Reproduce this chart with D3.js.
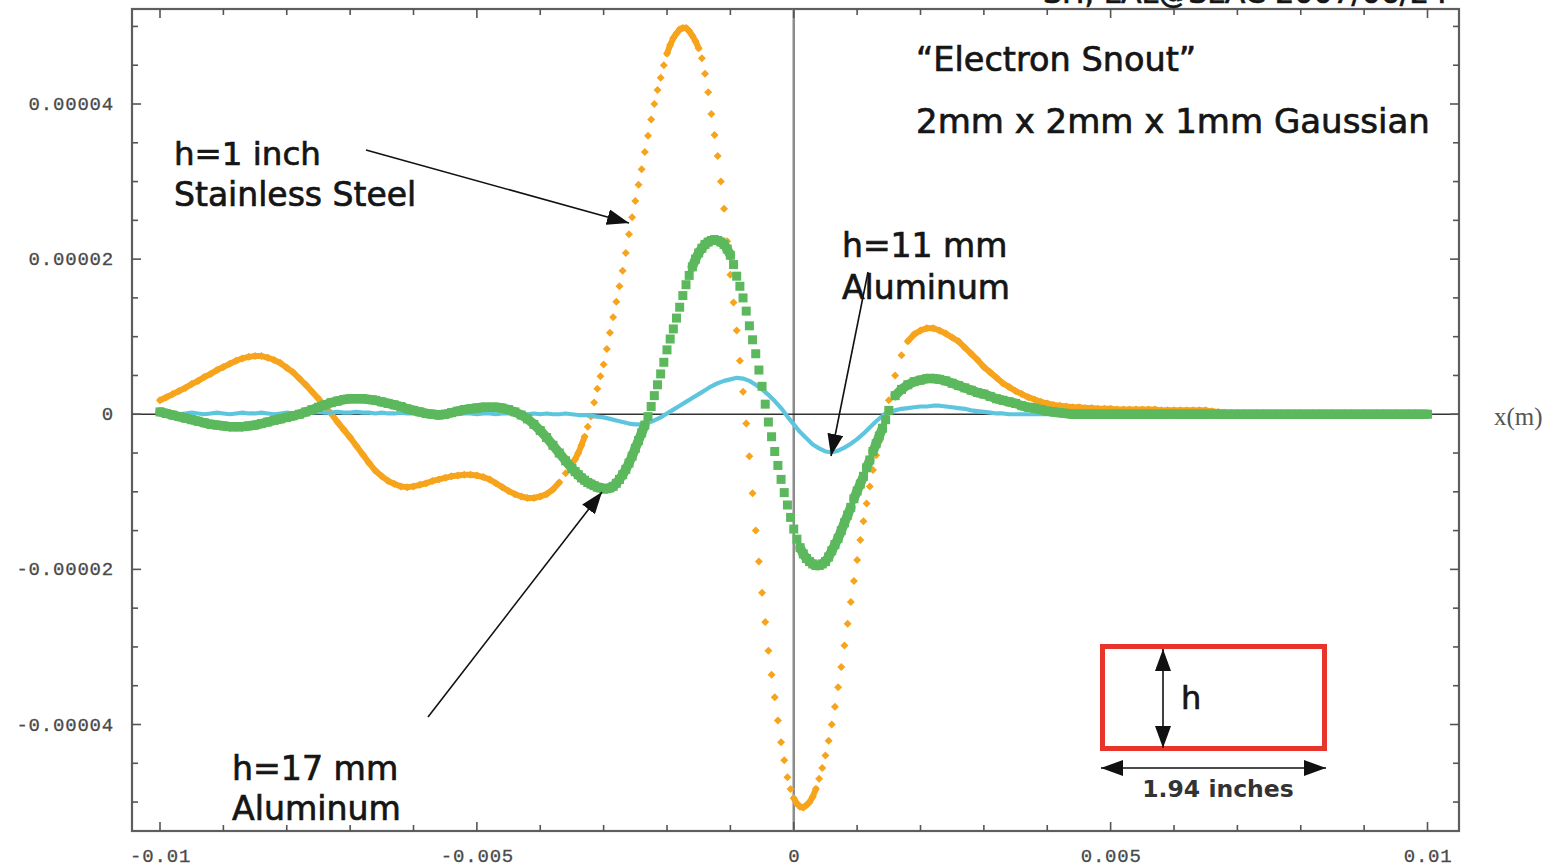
<!DOCTYPE html>
<html>
<head>
<meta charset="utf-8">
<script src="https://cdn.jsdelivr.net/npm/d3@7"></script>
<style>
  html, body { margin: 0; padding: 0; background: #fff; overflow: hidden; }
  svg { display: block; }
</style>
</head>
<body>
<svg id="chart" width="1562" height="867"></svg>
<script>
// ---------------- DATA (values in units of 1e-6) ----------------
// coarse sampling over the whole range
const xStart = -0.01, xStep = 0.0001, nPoints = 201;
const xValues = d3.range(nPoints).map(i => +(xStart + i * xStep).toFixed(5));
// finer sampling in the steep central part (-0.0035 .. 0.0015)
const fineStart = -0.0035, fineStep = 0.00005, fineN = 101;
const xFine = d3.range(fineN).map(k => +(fineStart + k * fineStep).toFixed(5));

// h = 1 inch, Stainless Steel (orange) — coarse
const steel1inch = [
  1.8, 2.2, 2.6, 3.0, 3.4, 3.9, 4.3, 4.8, 5.2, 5.7,
  6.1, 6.5, 6.9, 7.2, 7.4, 7.5, 7.5, 7.3, 7.0, 6.6,
  6.0, 5.4, 4.6, 3.8, 2.9, 2.0, 1.0, 0.1, -1.0, -2.0,
  -3.0, -4.1, -5.2, -6.3, -7.3, -8.0, -8.6, -9.0, -9.3, -9.4,
  -9.3, -9.1, -8.9, -8.6, -8.4, -8.2, -8.0, -7.9, -7.8, -7.8,
  -7.9, -8.1, -8.4, -8.9, -9.4, -9.9, -10.3, -10.6, -10.8, -10.8,
  -10.6, -10.3, -9.7, -8.8, -7.6, -6.4, -5.0, -2.9, -0.3, 3.3,
  6.4, 10.5, 14.5, 18.5, 23.2, 27.5, 31.6, 35.9, 40.0, 43.4,
  46.5, 48.5, 49.6, 49.8, 48.8, 47.2, 43.9, 38.7, 33.3, 26.5,
  18.0, 10.8, 2.9, -5.4, -15.0, -23.0, -30.5, -36.5, -42.3, -46.8,
  -49.5, -50.6, -50.4, -49.3, -47.0, -44.0, -40.0, -35.2, -29.8, -24.2,
  -18.8, -13.8, -9.3, -5.3, -1.8, 1.8, 5.0, 7.6, 9.4, 10.3,
  10.8, 11.1, 11.1, 10.8, 10.4, 9.9, 9.4, 8.6, 7.8, 7.0,
  6.1, 5.4, 4.7, 4.0, 3.5, 3.0, 2.6, 2.2, 1.9, 1.6,
  1.4, 1.2, 1.1, 1.0, 0.9, 0.9, 0.8, 0.8, 0.7, 0.7,
  0.7, 0.6, 0.6, 0.6, 0.6, 0.6, 0.6, 0.6, 0.5, 0.5,
  0.5, 0.5, 0.5, 0.5, 0.5, 0.5, 0.4, 0.3, 0.2, 0.1,
  0.1, 0.1, 0, 0, 0, 0, 0, 0, 0, 0,
  0, 0, 0, 0, 0, 0, 0, 0, 0, 0,
  0, 0, 0, 0, 0, 0, 0, 0, 0, 0,
  0
];
// h = 1 inch, Stainless Steel (orange) — fine, x = -0.0035 .. 0.0015
const steel1inchFine = [
  -6.4, -5.8, -5.0, -4.0, -2.9, -1.6, -0.3, 1.5, 3.3, 4.9,
  6.4, 8.4, 10.5, 12.5, 14.5, 16.5, 18.5, 20.8, 23.2, 25.4,
  27.5, 29.6, 31.6, 33.8, 35.9, 38.0, 40.0, 41.8, 43.4, 45.0,
  46.5, 47.6, 48.5, 49.1, 49.6, 49.8, 49.8, 49.4, 48.8, 48.1,
  47.2, 45.9, 43.9, 41.5, 38.7, 36.0, 33.3, 30.0, 26.5, 22.3,
  18.0, 14.4, 10.8, 6.9, 2.9, -1.2, -5.4, -10.2, -15.0, -19.0,
  -23.0, -26.8, -30.5, -33.6, -36.5, -39.5, -42.3, -44.6, -46.8, -48.3,
  -49.5, -50.2, -50.6, -50.7, -50.4, -50.0, -49.3, -48.3, -47.0, -45.6,
  -44.0, -42.1, -40.0, -37.7, -35.2, -32.6, -29.8, -27.0, -24.2, -21.5,
  -18.8, -16.2, -13.8, -11.5, -9.3, -7.2, -5.3, -3.5, -1.8, 0.0,
  1.8
];

// h = 17 mm, Aluminum (green) — coarse
const alu17mm = [
  0.3, 0.1, -0.1, -0.3, -0.5, -0.7, -0.9, -1.1, -1.3, -1.4,
  -1.5, -1.6, -1.6, -1.6, -1.5, -1.4, -1.2, -1.0, -0.8, -0.6,
  -0.4, -0.2, 0.0, 0.3, 0.6, 0.9, 1.2, 1.5, 1.7, 1.9,
  2.0, 2.0, 2.0, 1.9, 1.8, 1.6, 1.4, 1.2, 1.0, 0.7,
  0.5, 0.3, 0.1, 0.0, -0.1, 0.0, 0.2, 0.4, 0.6, 0.7,
  0.8, 0.9, 0.9, 0.9, 0.8, 0.6, 0.3, -0.1, -0.6, -1.3,
  -2.1, -3.0, -4.0, -5.0, -6.0, -7.0, -7.8, -8.5, -9.0, -9.4,
  -9.6, -9.5, -8.9, -7.8, -6.3, -4.4, -2.4, -0.3, 2.4, 5.2,
  8.3, 11.0, 13.8, 16.7, 19.0, 20.8, 21.9, 22.4, 22.4, 21.9,
  20.5, 17.8, 15.0, 11.4, 7.8, 3.6, -1.0, -4.8, -8.4, -11.7,
  -14.8, -17.2, -18.6, -19.3, -19.5, -19.0, -17.6, -16.0, -14.0, -12.0,
  -9.9, -8.0, -5.9, -3.8, -1.8, 0.5, 2.4, 3.2, 3.8, 4.2,
  4.4, 4.6, 4.6, 4.5, 4.3, 4.0, 3.7, 3.4, 3.1, 2.8,
  2.6, 2.3, 2.0, 1.8, 1.6, 1.4, 1.1, 0.9, 0.8, 0.6,
  0.4, 0.3, 0.2, 0.1, 0, 0, 0, 0, 0, 0,
  0, 0, 0, 0, 0, 0, 0, 0, 0, 0,
  0, 0, 0, 0, 0, 0, 0, 0, 0, 0,
  0, 0, 0, 0, 0, 0, 0, 0, 0, 0,
  0, 0, 0, 0, 0, 0, 0, 0, 0, 0,
  0, 0, 0, 0, 0, 0, 0, 0, 0, 0,
  0
];
// h = 17 mm, Aluminum (green) — fine, x = -0.0035 .. 0.0015
const alu17mmFine = [
  -7.0, -7.4, -7.8, -8.2, -8.5, -8.8, -9.0, -9.2, -9.4, -9.5,
  -9.6, -9.6, -9.5, -9.3, -8.9, -8.4, -7.8, -7.1, -6.3, -5.4,
  -4.4, -3.4, -2.4, -1.4, -0.3, 1.0, 2.4, 3.8, 5.2, 6.7,
  8.3, 9.7, 11.0, 12.4, 13.8, 15.3, 16.7, 17.9, 19.0, 20.0,
  20.8, 21.4, 21.9, 22.2, 22.4, 22.5, 22.4, 22.2, 21.9, 21.3,
  20.5, 19.3, 17.8, 16.5, 15.0, 13.3, 11.4, 9.6, 7.8, 5.7,
  3.6, 1.3, -1.0, -2.9, -4.8, -6.6, -8.4, -10.1, -11.7, -13.3,
  -14.8, -16.1, -17.2, -18.0, -18.6, -19.0, -19.3, -19.5, -19.5, -19.3,
  -19.0, -18.4, -17.6, -16.8, -16.0, -15.0, -14.0, -13.0, -12.0, -10.9,
  -9.9, -9.0, -8.0, -6.9, -5.9, -4.8, -3.8, -2.8, -1.8, -0.7,
  0.5
];

// h = 11 mm, Aluminum (cyan)
const alu11mm = [
  0.2, 0.1, 0.2, 0.0, 0.1, 0.2, 0.1, 0.0, 0.1, 0.2,
  0.1, 0.0, 0.1, 0.2, 0.1, 0.1, 0.2, 0.1, 0.0, 0.1,
  0.2, 0.1, 0.1, 0.2, 0.2, 0.3, 0.2, 0.2, 0.3, 0.2,
  0.2, 0.3, 0.2, 0.2, 0.1, 0.2, 0.1, 0.1, 0.2, 0.1,
  0.1, 0.0, 0.1, 0.1, 0.0, 0.1, 0.1, 0.0, 0.1, 0.1,
  0.0, 0.1, 0.1, 0.0, 0.1, 0.1, 0.0, 0.1, 0.0, 0.1,
  0.0, 0.1, 0.0, 0.0, 0.1, 0.0, -0.1, -0.1, -0.2, -0.3,
  -0.4, -0.6, -0.8, -1.0, -1.2, -1.3, -1.3, -1.1, -0.8, -0.4,
  0.1, 0.6, 1.1, 1.6, 2.1, 2.6, 3.1, 3.6, 4.0, 4.3,
  4.5, 4.7, 4.6, 4.3, 3.8, 3.2, 2.5, 1.7, 0.8, -0.3,
  -1.3, -2.3, -3.1, -3.9, -4.4, -4.8, -4.9, -4.7, -4.3, -3.8,
  -3.2, -2.5, -1.7, -0.9, -0.2, 0.3, 0.5, 0.7, 0.8, 0.9,
  1.0, 1.0, 1.1, 1.1, 1.0, 0.9, 0.8, 0.7, 0.5, 0.4,
  0.3, 0.2, 0.1, 0.1, 0, 0, 0, 0, 0, 0,
  0, 0, 0, 0, 0, 0, 0, 0, 0, 0,
  0, 0, 0, 0, 0, 0, 0, 0, 0, 0,
  0, 0, 0, 0, 0, 0, 0, 0, 0, 0,
  0, 0, 0, 0, 0, 0, 0, 0, 0, 0,
  0, 0, 0, 0, 0, 0, 0, 0, 0, 0,
  0, 0, 0, 0, 0, 0, 0, 0, 0, 0,
  0
];
const valueUnit = 1e-6;

const xTickLabels = ["-0.01", "-0.005", "0", "0.005", "0.01"];
const xTickValues = [-0.01, -0.005, 0, 0.005, 0.01];
const yTickLabels = ["0.00004", "0.00002", "0", "-0.00002", "-0.00004"];
const yTickValues = [0.00004, 0.00002, 0, -0.00002, -0.00004];

// ---------------- LAYOUT ----------------
const frame = { left: 132, right: 1459, top: 9, bottom: 831 };
const svg = d3.select("#chart");

const x = d3.scaleLinear().domain([-0.01, 0.01]).range([160, 1427.5]);
const y = d3.scaleLinear().domain([-0.00004, 0.00004]).range([724.5, 104]);

const colors = { steel: "#f7a41d", green: "#5cb85c", cyan: "#5ec5de", red: "#e8342a" };

// frame
svg.append("rect")
  .attr("x", frame.left).attr("y", frame.top)
  .attr("width", frame.right - frame.left).attr("height", frame.bottom - frame.top)
  .attr("fill", "none").attr("stroke", "#5e5e5e").attr("stroke-width", 2.2);

// zero lines
svg.append("line")
  .attr("x1", x(0)).attr("x2", x(0)).attr("y1", frame.top).attr("y2", frame.bottom)
  .attr("stroke", "#8c8c8c").attr("stroke-width", 2.5);
svg.append("line")
  .attr("x1", frame.left).attr("x2", frame.right).attr("y1", y(0)).attr("y2", y(0))
  .attr("stroke", "#333").attr("stroke-width", 1.6);

// ---------------- TICKS ----------------
const majorX = xTickValues, minorX = d3.range(-10, 11).map(k => k / 1000);
const majorY = yTickValues, minorY = d3.range(-10, 11).map(k => k * 0.000005);
const tickG = svg.append("g").attr("stroke", "#555").attr("stroke-width", 1.6);
function isMajor(list, v) { return list.some(m => Math.abs(m - v) < 1e-12); }
minorX.forEach(v => {
  const len = isMajor(majorX, v) ? 9 : 6;
  tickG.append("line").attr("x1", x(v)).attr("x2", x(v)).attr("y1", frame.bottom).attr("y2", frame.bottom - len);
  tickG.append("line").attr("x1", x(v)).attr("x2", x(v)).attr("y1", frame.top).attr("y2", frame.top + len);
});
minorY.forEach(v => {
  const len = isMajor(majorY, v) ? 9 : 6;
  tickG.append("line").attr("y1", y(v)).attr("y2", y(v)).attr("x1", frame.left).attr("x2", frame.left + len);
  tickG.append("line").attr("y1", y(v)).attr("y2", y(v)).attr("x1", frame.right).attr("x2", frame.right - len);
});

const tickFont = { family: "'Liberation Mono', 'DejaVu Sans Mono', monospace", size: 19, fill: "#4a4a4a" };
xTickValues.forEach((v, i) => {
  svg.append("text").attr("x", x(v) + 0.6).attr("y", 862)
    .attr("text-anchor", "middle")
    .attr("font-family", tickFont.family).attr("font-size", tickFont.size)
    .attr("letter-spacing", 0.8).attr("fill", tickFont.fill)
    .attr("stroke", tickFont.fill).attr("stroke-width", 0.3)
    .text(xTickLabels[i]);
});
yTickValues.forEach((v, i) => {
  svg.append("text").attr("x", 114).attr("y", y(v) + 6)
    .attr("text-anchor", "end")
    .attr("font-family", tickFont.family).attr("font-size", tickFont.size)
    .attr("letter-spacing", 0.8).attr("fill", tickFont.fill)
    .attr("stroke", tickFont.fill).attr("stroke-width", 0.3)
    .text(yTickLabels[i]);
});
svg.append("text").attr("x", 1494).attr("y", 425)
  .attr("font-family", "'Liberation Serif', 'DejaVu Serif', serif").attr("font-size", 25)
  .attr("fill", "#555").text("x(m)");

// ---------------- SERIES ----------------
// combine coarse samples outside the fine window with the fine samples
function pts(coarse, fine) {
  const lo = xFine[0] - 1e-9, hi = xFine[xFine.length - 1] + 1e-9;
  let list = xValues.map((xv, i) => [xv, coarse[i]]);
  if (fine) {
    list = list.filter(d => d[0] < lo || d[0] > hi)
      .concat(xFine.map((xv, k) => [xv, fine[k]]));
    list.sort((a, b) => a[0] - b[0]);
  }
  return list.map(d => [x(d[0]), y(d[1] * valueUnit)]);
}
// dense point runs look like a continuous band; sparse ones stay separate markers
function drawBand(g, p, color, width, thrY) {
  for (let i = 0; i < p.length - 1; i++) {
    const dy = Math.abs(p[i + 1][1] - p[i][1]);
    if (dy < thrY) {
      g.append("line").attr("x1", p[i][0]).attr("y1", p[i][1])
        .attr("x2", p[i + 1][0]).attr("y2", p[i + 1][1])
        .attr("stroke", color).attr("stroke-width", width).attr("stroke-linecap", "round");
    }
  }
}

// orange (h = 1 inch)
const gSteel = svg.append("g");
const pSteel = pts(steel1inch, steel1inchFine);
drawBand(gSteel, pSteel, colors.steel, 6, 9);
gSteel.selectAll("path.m").data(pSteel).join("path")
  .attr("class", "m")
  .attr("d", d3.symbol(d3.symbolSquare, 32)())
  .attr("transform", d => `translate(${d[0]},${d[1]}) rotate(45)`)
  .attr("fill", colors.steel);

// cyan (h = 11 mm)
const gCyan = svg.append("g");
gCyan.append("path").datum(pts(alu11mm))
  .attr("d", d3.line())
  .attr("fill", "none").attr("stroke", colors.cyan).attr("stroke-width", 4.2)
  .attr("stroke-linejoin", "round");

// green (h = 17 mm)
const gGreen = svg.append("g");
const pGreen = pts(alu17mm, alu17mmFine);
drawBand(gGreen, pGreen, colors.green, 9.5, 8.5);
gGreen.selectAll("rect").data(pGreen).join("rect")
  .attr("x", d => d[0] - 4.5).attr("y", d => d[1] - 4.5)
  .attr("width", 9).attr("height", 9)
  .attr("fill", colors.green);

// ---------------- ANNOTATIONS ----------------
const defs = svg.append("defs");
defs.append("marker").attr("id", "ah")
  .attr("viewBox", "0 0 22 16").attr("refX", 22).attr("refY", 8)
  .attr("markerWidth", 22).attr("markerHeight", 16)
  .attr("markerUnits", "userSpaceOnUse").attr("orient", "auto-start-reverse")
  .append("path").attr("d", "M0,0 L22,8 L0,16 Z").attr("fill", "#111");

const annFont = "'DejaVu Sans', Verdana, sans-serif";
function label(txt, px, py, size, opts = {}) {
  const fill = opts.fill || "#151515";
  return svg.append("text").attr("x", px).attr("y", py)
    .attr("font-family", annFont).attr("font-size", size)
    .attr("font-weight", opts.weight || "normal")
    .attr("text-anchor", opts.anchor || "start")
    .attr("fill", fill)
    .attr("stroke", fill).attr("stroke-width", opts.sw === undefined ? 0.7 : opts.sw)
    .text(txt);
}
function arrow(x1, y1, x2, y2, both) {
  const l = svg.append("line").attr("x1", x1).attr("y1", y1).attr("x2", x2).attr("y2", y2)
    .attr("stroke", "#111").attr("stroke-width", 1.6).attr("marker-end", "url(#ah)");
  if (both) l.attr("marker-start", "url(#ah)");
}

label("SH, LAL@SLAC 2007/06/24", 1043, 3, 30);

label("h=1 inch", 174, 165, 32.5);
label("Stainless Steel", 174, 206, 33);
arrow(366, 150, 629, 223);

label("\u201CElectron Snout\u201D", 916, 71, 33.5);
label("2mm x 2mm x 1mm Gaussian", 916, 133, 34);

arrow(868, 272, 831, 456);
label("h=11 mm", 842, 257, 33);
label("Aluminum", 842, 299, 33);

label("h=17 mm", 232, 780, 33.2);
label("Aluminum", 232, 820, 33.2);
arrow(428, 717, 602, 492);

// cross-section inset
svg.append("rect").attr("x", 1102.5).attr("y", 646.5).attr("width", 222).attr("height", 102)
  .attr("fill", "none").attr("stroke", colors.red).attr("stroke-width", 5);
arrow(1163, 649, 1163, 748, true);
label("h", 1181, 709, 32);
arrow(1101, 768, 1326, 768, true);
label("1.94 inches", 1218, 797, 23.5, { weight: "bold", anchor: "middle", fill: "#333", sw: 0 });
</script>
</body>
</html>
